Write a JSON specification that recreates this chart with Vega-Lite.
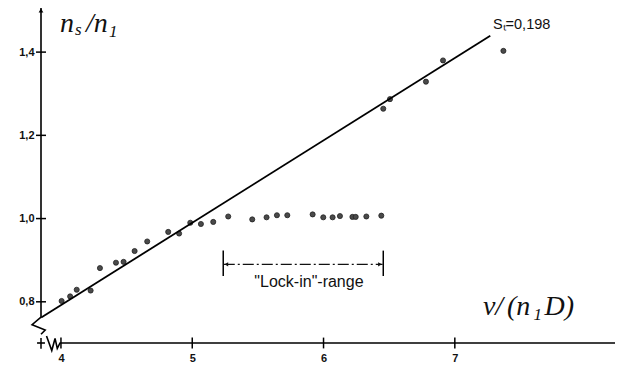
{
  "$schema": "https://vega.github.io/schema/vega-lite/v6.json",
  "width": 574,
  "height": 335,
  "autosize": "none",
  "padding": {"left": 41, "top": 8, "right": 4, "bottom": 24},
  "background": "white",
  "config": {"view": {"stroke": null}},
  "datasets": {
    "points": [
      {"v": 4.005, "n": 0.802}, {"v": 4.07, "n": 0.813}, {"v": 4.12, "n": 0.829}, {"v": 4.226, "n": 0.827},
      {"v": 4.297, "n": 0.881}, {"v": 4.419, "n": 0.894}, {"v": 4.477, "n": 0.896}, {"v": 4.561, "n": 0.922},
      {"v": 4.657, "n": 0.945}, {"v": 4.817, "n": 0.968}, {"v": 4.9, "n": 0.964}, {"v": 4.985, "n": 0.99},
      {"v": 5.066, "n": 0.987}, {"v": 5.16, "n": 0.992}, {"v": 5.274, "n": 1.005}, {"v": 5.457, "n": 0.998},
      {"v": 5.566, "n": 1.003}, {"v": 5.645, "n": 1.008}, {"v": 5.724, "n": 1.008}, {"v": 5.917, "n": 1.01},
      {"v": 5.998, "n": 1.003}, {"v": 6.069, "n": 1.003}, {"v": 6.125, "n": 1.006}, {"v": 6.22, "n": 1.004},
      {"v": 6.245, "n": 1.004}, {"v": 6.326, "n": 1.005}, {"v": 6.44, "n": 1.007}, {"v": 6.455, "n": 1.264},
      {"v": 6.506, "n": 1.287}, {"v": 6.78, "n": 1.329}, {"v": 6.91, "n": 1.38}, {"v": 7.37, "n": 1.403}
    ],
    "fit": [{"v": 3.85, "n": 0.7623}, {"v": 7.27, "n": 1.4395}],
    "frame": [
      {"seg": "yaxis", "o": 1, "v": 3.848, "n": 1.506},
      {"seg": "yaxis", "o": 2, "v": 3.848, "n": 0.763},
      {"seg": "yaxis", "o": 3, "v": 3.78, "n": 0.745},
      {"seg": "yaxis", "o": 4, "v": 3.88, "n": 0.732},
      {"seg": "yaxis", "o": 5, "v": 3.848, "n": 0.722},
      {"seg": "xleft", "o": 1, "v": 3.818, "n": 0.701},
      {"seg": "xleft", "o": 2, "v": 3.878, "n": 0.701},
      {"seg": "xaxis", "o": 1, "v": 3.89, "n": 0.718},
      {"seg": "xaxis", "o": 2, "v": 3.93, "n": 0.683},
      {"seg": "xaxis", "o": 3, "v": 3.955, "n": 0.712},
      {"seg": "xaxis", "o": 4, "v": 3.972, "n": 0.688},
      {"seg": "xaxis", "o": 5, "v": 3.993, "n": 0.701},
      {"seg": "xaxis", "o": 6, "v": 8.22, "n": 0.701}
    ],
    "ticks": [
      {"v": 3.81, "v2": 3.886, "n": 0.8, "n2": 0.8},
      {"v": 3.81, "v2": 3.886, "n": 1.0, "n2": 1.0},
      {"v": 3.81, "v2": 3.886, "n": 1.2, "n2": 1.2},
      {"v": 3.81, "v2": 3.886, "n": 1.4, "n2": 1.4},
      {"v": 3.848, "v2": 3.848, "n": 0.687, "n2": 0.713},
      {"v": 4, "v2": 4, "n": 0.688, "n2": 0.714},
      {"v": 5, "v2": 5, "n": 0.688, "n2": 0.714},
      {"v": 6, "v2": 6, "n": 0.688, "n2": 0.714},
      {"v": 7, "v2": 7, "n": 0.688, "n2": 0.714},
      {"v": 5.236, "v2": 5.236, "n": 0.862, "n2": 0.923},
      {"v": 6.455, "v2": 6.455, "n": 0.862, "n2": 0.923}
    ],
    "bracket": [{"v": 5.24, "n": 0.89}, {"v": 6.45, "n": 0.89}],
    "arrows": [
      {"kind": "left", "v": 5.26, "n": 0.89},
      {"kind": "right", "v": 6.43, "n": 0.89},
      {"kind": "up", "v": 3.848, "n": 1.5}
    ],
    "sans": [
      {"label": "\"Lock-in\"-range", "v": 5.889, "n": 0.848}
    ],
    "st": [
      {"label": "Sₜ=0,198", "v": 7.29, "n": 1.465}
    ],
    "mathbig": [
      {"label": "n", "v": 3.993, "n": 1.448},
      {"label": "/n", "v": 4.19, "n": 1.448},
      {"label": "v/", "v": 7.214, "n": 0.768},
      {"label": "(n", "v": 7.397, "n": 0.768},
      {"label": "D)", "v": 7.683, "n": 0.768}
    ],
    "mathsub": [
      {"label": "s", "v": 4.107, "n": 1.44},
      {"label": "1", "v": 4.366, "n": 1.437},
      {"label": "1", "v": 7.6, "n": 0.757}
    ]
  },
  "layer": [
    {
      "data": {"name": "points"},
      "mark": {"type": "point", "filled": true, "size": 26, "color": "#4a4a4a", "stroke": "#222", "strokeWidth": 0.8, "opacity": 1},
      "encoding": {
        "x": {"field": "v", "type": "quantitative", "scale": {"domain": [3.848, 8.22], "nice": false, "zero": false},
              "axis": {"title": null, "domain": false, "ticks": false, "grid": false, "values": [4, 5, 6, 7], "format": "d",
                       "labelFont": "Liberation Sans", "labelFontWeight": "bold", "labelFontSize": 11, "labelColor": "#111", "labelPadding": 9}},
        "y": {"field": "n", "type": "quantitative", "scale": {"domain": [0.701, 1.506], "nice": false, "zero": false},
              "axis": {"title": null, "domain": false, "ticks": false, "grid": false, "values": [0.8, 1.0, 1.2, 1.4],
                       "labelExpr": "replace(format(datum.value, '.1f'), '.', ',')",
                       "labelFont": "Liberation Sans", "labelFontWeight": "bold", "labelFontSize": 11, "labelColor": "#111", "labelPadding": 7}}
      }
    },
    {
      "data": {"name": "fit"},
      "mark": {"type": "line", "color": "#000", "strokeWidth": 1.8},
      "encoding": {"x": {"field": "v", "type": "quantitative"}, "y": {"field": "n", "type": "quantitative"}}
    },
    {
      "data": {"name": "frame"},
      "mark": {"type": "line", "color": "#000", "strokeWidth": 1.6},
      "encoding": {
        "x": {"field": "v", "type": "quantitative"},
        "y": {"field": "n", "type": "quantitative"},
        "detail": {"field": "seg", "type": "nominal"},
        "order": {"field": "o", "type": "quantitative"}
      }
    },
    {
      "data": {"name": "ticks"},
      "mark": {"type": "rule", "color": "#000", "strokeWidth": 1.5},
      "encoding": {
        "x": {"field": "v", "type": "quantitative"}, "x2": {"field": "v2"},
        "y": {"field": "n", "type": "quantitative"}, "y2": {"field": "n2"}
      }
    },
    {
      "data": {"name": "bracket"},
      "mark": {"type": "line", "color": "#111", "strokeWidth": 1.1, "strokeDash": [11, 3, 2, 3]},
      "encoding": {"x": {"field": "v", "type": "quantitative"}, "y": {"field": "n", "type": "quantitative"}}
    },
    {
      "data": {"name": "arrows"},
      "transform": [{"filter": "datum.kind == 'left'"}],
      "mark": {"type": "point", "shape": "triangle-left", "filled": true, "size": 18, "color": "#111", "opacity": 1},
      "encoding": {"x": {"field": "v", "type": "quantitative"}, "y": {"field": "n", "type": "quantitative"}}
    },
    {
      "data": {"name": "arrows"},
      "transform": [{"filter": "datum.kind == 'right'"}],
      "mark": {"type": "point", "shape": "triangle-right", "filled": true, "size": 18, "color": "#111", "opacity": 1},
      "encoding": {"x": {"field": "v", "type": "quantitative"}, "y": {"field": "n", "type": "quantitative"}}
    },
    {
      "data": {"name": "arrows"},
      "transform": [{"filter": "datum.kind == 'up'"}],
      "mark": {"type": "point", "shape": "triangle-up", "filled": true, "size": 22, "color": "#000", "opacity": 1},
      "encoding": {"x": {"field": "v", "type": "quantitative"}, "y": {"field": "n", "type": "quantitative"}}
    },
    {
      "data": {"name": "sans"},
      "mark": {"type": "text", "font": "Liberation Sans", "fontSize": 16, "color": "#111", "align": "center", "baseline": "middle"},
      "encoding": {"x": {"field": "v", "type": "quantitative"}, "y": {"field": "n", "type": "quantitative"}, "text": {"field": "label"}}
    },
    {
      "data": {"name": "st"},
      "mark": {"type": "text", "font": "Liberation Sans", "fontSize": 14.5, "color": "#111", "align": "left", "baseline": "middle"},
      "encoding": {"x": {"field": "v", "type": "quantitative"}, "y": {"field": "n", "type": "quantitative"}, "text": {"field": "label"}}
    },
    {
      "data": {"name": "mathbig"},
      "mark": {"type": "text", "font": "Liberation Serif", "fontStyle": "italic", "fontSize": 28, "color": "#111", "align": "left", "baseline": "alphabetic"},
      "encoding": {"x": {"field": "v", "type": "quantitative"}, "y": {"field": "n", "type": "quantitative"}, "text": {"field": "label"}}
    },
    {
      "data": {"name": "mathsub"},
      "mark": {"type": "text", "font": "Liberation Serif", "fontStyle": "italic", "fontSize": 17, "color": "#111", "align": "left", "baseline": "alphabetic"},
      "encoding": {"x": {"field": "v", "type": "quantitative"}, "y": {"field": "n", "type": "quantitative"}, "text": {"field": "label"}}
    }
  ]
}
